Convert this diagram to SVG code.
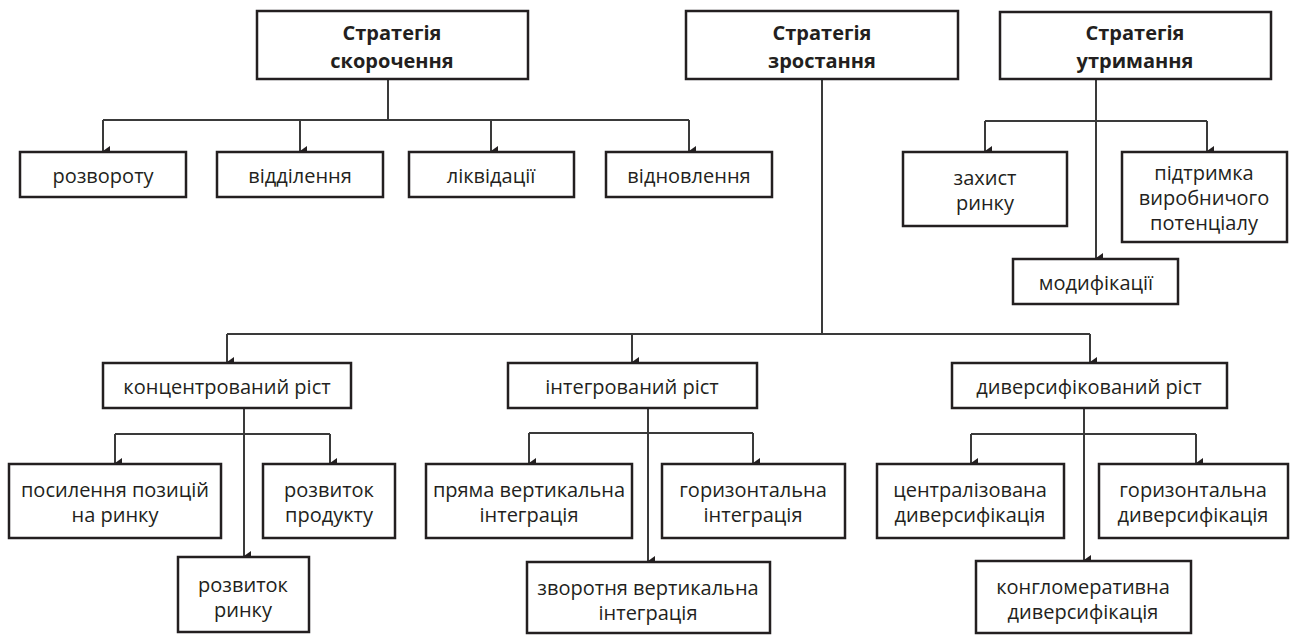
<svg xmlns="http://www.w3.org/2000/svg" width="1298" height="635" viewBox="0 0 1298 635">
<style>
.box{fill:#fff;stroke:#231f20;stroke-width:2.5}
.t{font-family:"Open Sans","Noto Sans","Liberation Sans",sans-serif;font-size:20px;fill:#231f20;text-anchor:middle;dominant-baseline:central}
.b{font-weight:bold}
.c{fill:none;stroke:#3a3a3a;stroke-width:2}
</style>
<defs>
<marker id="ah" markerUnits="userSpaceOnUse" markerWidth="12" markerHeight="10" refX="6" refY="9" orient="auto-start-reverse" viewBox="0 0 12 10">
<path d="M1,2 L11,2 L6,9 Z" fill="#231f20"/>
</marker>
</defs>
<rect width="1298" height="635" fill="#fff"/>
<g id="connectors">
<path class="c" d="M388,79 V120"/>
<path class="c" d="M103,120 H689"/>
<path class="c" d="M103,120 V151" marker-end="url(#ah)"/>
<path class="c" d="M300,120 V151" marker-end="url(#ah)"/>
<path class="c" d="M491,120 V151" marker-end="url(#ah)"/>
<path class="c" d="M689,120 V151" marker-end="url(#ah)"/>
<path class="c" d="M1096,79 V258" marker-end="url(#ah)"/>
<path class="c" d="M985,121 H1207"/>
<path class="c" d="M985,121 V151" marker-end="url(#ah)"/>
<path class="c" d="M1207,121 V151" marker-end="url(#ah)"/>
<path class="c" d="M822,79 V334"/>
<path class="c" d="M227,334 H1090"/>
<path class="c" d="M227,334 V362" marker-end="url(#ah)"/>
<path class="c" d="M632,334 V362" marker-end="url(#ah)"/>
<path class="c" d="M1090,334 V362" marker-end="url(#ah)"/>
<path class="c" d="M244,408 V556" marker-end="url(#ah)"/>
<path class="c" d="M115,434 H330"/>
<path class="c" d="M115,434 V463" marker-end="url(#ah)"/>
<path class="c" d="M330,434 V463" marker-end="url(#ah)"/>
<path class="c" d="M648,408 V561" marker-end="url(#ah)"/>
<path class="c" d="M529,433 H753"/>
<path class="c" d="M529,433 V463" marker-end="url(#ah)"/>
<path class="c" d="M753,433 V463" marker-end="url(#ah)"/>
<path class="c" d="M1084,408 V560" marker-end="url(#ah)"/>
<path class="c" d="M971,434 H1196"/>
<path class="c" d="M971,434 V463" marker-end="url(#ah)"/>
<path class="c" d="M1196,434 V463" marker-end="url(#ah)"/>
</g>
<g id="n-skorochennia"><rect class="box" x="257" y="11" width="271" height="68"/><text class="t b" x="392" y="32">Стратегія</text><text class="t b" x="392" y="60">скорочення</text></g>
<g id="n-zrostannia"><rect class="box" x="686" y="11" width="272" height="68"/><text class="t b" x="822" y="32">Стратегія</text><text class="t b" x="822" y="60">зростання</text></g>
<g id="n-utrymannia"><rect class="box" x="1000" y="12" width="271" height="67"/><text class="t b" x="1135" y="32">Стратегія</text><text class="t b" x="1135" y="60">утримання</text></g>
<g id="n-rozvorotu"><rect class="box" x="20" y="152" width="166" height="45"/><text class="t" x="103" y="175">розвороту</text></g>
<g id="n-viddilennia"><rect class="box" x="217" y="152" width="166" height="45"/><text class="t" x="300" y="175">відділення</text></g>
<g id="n-likvidatsii"><rect class="box" x="409" y="152" width="165" height="45"/><text class="t" x="491" y="175">ліквідації</text></g>
<g id="n-vidnovlennia"><rect class="box" x="606" y="152" width="166" height="45"/><text class="t" x="689" y="175">відновлення</text></g>
<g id="n-zakhyst"><rect class="box" x="903" y="152" width="164" height="74"/><text class="t" x="985" y="177">захист</text><text class="t" x="985" y="202">ринку</text></g>
<g id="n-pidtrymka"><rect class="box" x="1122" y="152" width="165" height="90"/><text class="t" x="1204" y="172">підтримка</text><text class="t" x="1204" y="197">виробничого</text><text class="t" x="1204" y="222">потенціалу</text></g>
<g id="n-modyfikatsii"><rect class="box" x="1013" y="259" width="165" height="45"/><text class="t" x="1096" y="282">модифікації</text></g>
<g id="n-kontsentrovanyi"><rect class="box" x="103" y="363" width="248" height="45"/><text class="t" x="227" y="386">концентрований ріст</text></g>
<g id="n-intehrovanyi"><rect class="box" x="508" y="363" width="249" height="45"/><text class="t" x="632" y="386">інтегрований ріст</text></g>
<g id="n-dyversyfikovanyi"><rect class="box" x="952" y="363" width="275" height="45"/><text class="t" x="1089" y="386">диверсифікований ріст</text></g>
<g id="n-posylennia"><rect class="box" x="9" y="464" width="212" height="74"/><text class="t" x="115" y="489">посилення позицій</text><text class="t" x="115" y="514">на ринку</text></g>
<g id="n-produkt"><rect class="box" x="263" y="464" width="132" height="74"/><text class="t" x="329" y="489">розвиток</text><text class="t" x="329" y="514">продукту</text></g>
<g id="n-rynok"><rect class="box" x="178" y="557" width="131" height="75"/><text class="t" x="243" y="584">розвиток</text><text class="t" x="243" y="609">ринку</text></g>
<g id="n-priama"><rect class="box" x="426" y="464" width="206" height="74"/><text class="t" x="529" y="489">пряма вертикальна</text><text class="t" x="529" y="514">інтеграція</text></g>
<g id="n-horyz-int"><rect class="box" x="662" y="464" width="183" height="74"/><text class="t" x="753" y="489">горизонтальна</text><text class="t" x="753" y="514">інтеграція</text></g>
<g id="n-zvorotnia"><rect class="box" x="527" y="562" width="243" height="71"/><text class="t" x="648" y="587">зворотня вертикальна</text><text class="t" x="648" y="612">інтеграція</text></g>
<g id="n-tsentr"><rect class="box" x="877" y="464" width="187" height="74"/><text class="t" x="970" y="489">централізована</text><text class="t" x="970" y="514">диверсифікація</text></g>
<g id="n-horyz-dyv"><rect class="box" x="1099" y="464" width="189" height="74"/><text class="t" x="1193" y="489">горизонтальна</text><text class="t" x="1193" y="514">диверсифікація</text></g>
<g id="n-konhlom"><rect class="box" x="976" y="561" width="215" height="72"/><text class="t" x="1083" y="586">конгломеративна</text><text class="t" x="1083" y="611">диверсифікація</text></g>
</svg>
